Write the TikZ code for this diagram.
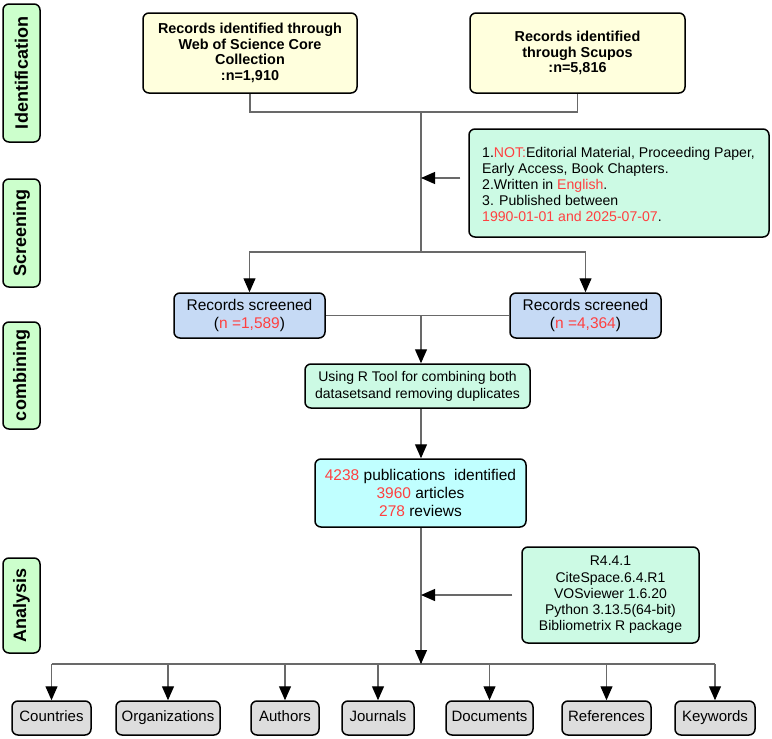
\documentclass[tikz,border=0pt]{standalone}
\usepackage{fontspec}
\setmainfont{Liberation Sans}
\usetikzlibrary{arrows.meta,calc}
\definecolor{sidegreen}{RGB}{204,255,204}
\definecolor{srcyellow}{RGB}{255,255,221}
\definecolor{mint}{RGB}{204,250,228}
\definecolor{scrblue}{RGB}{198,218,245}
\definecolor{pubcyan}{RGB}{192,255,255}
\definecolor{boxgray}{RGB}{221,221,221}
\definecolor{txtred}{RGB}{255,64,64}
\definecolor{lineg}{RGB}{105,105,105}
\newcommand{\rd}[1]{\textcolor{txtred}{#1}}
\tikzset{
  basebox/.style={draw=black, line width=1.5pt, rounded corners=6pt, inner sep=0pt, align=center, text=black},
  sidelab/.style={basebox, fill=sidegreen, minimum width=37pt, font=\fontsize{18}{20}\selectfont\bfseries},
  srcbox/.style={basebox, fill=srcyellow, minimum width=214pt, minimum height=80pt, font=\fontsize{14.4}{15.7}\selectfont\bfseries},
  critbox/.style={basebox, fill=mint},
  scrbox/.style={basebox, fill=scrblue, minimum width=151pt, minimum height=45pt, font=\fontsize{15.5}{18}\selectfont},
  pubbox/.style={basebox, fill=pubcyan, minimum width=211pt, minimum height=68pt, font=\fontsize{15.5}{18.3}\selectfont},
  catbox/.style={basebox, fill=boxgray, minimum height=34pt, text height=11pt, text depth=3.5pt, font=\fontsize{15}{17}\selectfont},
  conn/.style={draw=lineg, line width=1.2pt},
  arr/.style={conn, -{Triangle[length=14pt,width=12pt,color=black,fill=black]}}
}
\begin{document}
\begin{tikzpicture}[x=1pt,y=-1pt]
\useasboundingbox (0,0) rectangle (772,739);
% side labels
\node[sidelab, minimum height=138pt] (idlab) at (21.5,73) {\rotatebox{90}{Identification}};
\node[sidelab, minimum height=108pt] (scrlab) at (21.5,233) {\rotatebox{90}{Screening}};
\node[sidelab, minimum height=107pt] (comlab) at (21.5,375.5) {\rotatebox{90}{combining}};
\node[sidelab, minimum height=95pt] (analab) at (21.5,605.5) {\rotatebox{90}{Analysis}};
% sources
\node[srcbox] (wos) at (250,53) {Records identified through\\Web of Science Core\\Collection\\:n=1,910};
\node[srcbox, minimum width=215pt] (scop) at (577.5,53) {Records identified\\through Scupos\\:n=5,816};
% criteria
\node[critbox, minimum width=300pt, minimum height=108pt] (crit) at (619,183) {};
\node[anchor=west, align=left, inner sep=0pt, font=\fontsize{14.1}{16.2}\selectfont] (crittext) at (482,184.5) {1.\rd{NOT:}Editorial Material, Proceeding Paper,\\Early Access, Book Chapters.\\2.Written in \rd{English}.\\3. Published between\\\rd{1990-01-01 and 2025-07-07}.};
% screened
\node[scrbox] (scr1) at (249.5,315.5) {Records screened\\(\rd{n =1,589})};
\node[scrbox] (scr2) at (585.5,315.5) {Records screened\\(\rd{n =4,364})};
% R tool
\node[critbox, minimum width=225pt, minimum height=44pt, font=\fontsize{14}{17}\selectfont] (rtool) at (417.5,386) {Using R Tool for combining both\\datasetsand removing duplicates};
% publications
\node[pubbox] (pubs) at (420.5,493) {\rd{4238} publications\ \ identified\\\rd{3960} articles\\\rd{278} reviews};
% software
\node[critbox, minimum width=177pt, minimum height=96pt, font=\fontsize{14}{16.2}\selectfont] (soft) at (610.5,595) {R4.4.1\\CiteSpace.6.4.R1\\VOSviewer 1.6.20\\Python 3.13.5(64-bit)\\Bibliometrix R package};
% categories
\node[catbox, minimum width=79pt] (c1) at (51.5,718) {Countries};
\node[catbox, minimum width=104pt] (c2) at (168,718) {Organizations};
\node[catbox, minimum width=68pt] (c3) at (285,718) {Authors};
\node[catbox, minimum width=72pt] (c4) at (378,718) {Journals};
\node[catbox, minimum width=87pt] (c5) at (489.5,718) {Documents};
\node[catbox, minimum width=89pt] (c6) at (606.5,718) {References};
\node[catbox, minimum width=80pt] (c7) at (715,718) {Keywords};
% junctions
\coordinate (j1) at (421,112);
\coordinate (j2) at (421,252);
\coordinate (j4) at (421,664);
% connectors
\draw[conn] (wos.south) |- (j1) -| (scop.south);
\draw[conn] (j1) -- (j2);
\draw[arr] (crit.west) ++(-8,-5) -- ($(j1 |- crit.west)+(0,-5)$);
\draw[arr] (j2) -| (scr1.north);
\draw[arr] (j2) -| (scr2.north);
\draw[conn] (scr1.east) -- (scr2.west);
\draw[arr] (j1 |- scr1.east) -- (j1 |- rtool.north);
\draw[arr] (j1 |- rtool.south) -- (j1 |- pubs.north);
\draw[conn] (j1 |- pubs.south) -- (j4);
\draw[arr] (soft.west) ++(-9,0) -- (j1 |- soft.west);
\draw[conn] (c1.north |- j4) -- (c7.north |- j4);
\foreach \c in {c1,c2,c3,c4,c5,c6,c7} { \draw[arr] (\c.north |- j4) -- (\c.north); }
\draw[arr] ($(j4)+(0,-12)$) -- (j4);
\end{tikzpicture}
\end{document}
